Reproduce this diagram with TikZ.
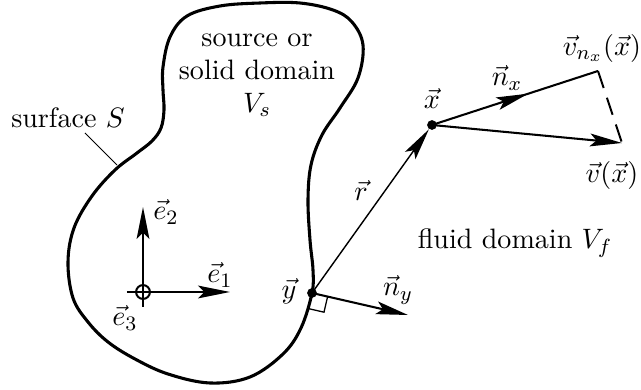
\documentclass[tikz,border=0pt]{standalone}
\usetikzlibrary{arrows.meta,decorations.markings}
\begin{document}
\begin{tikzpicture}[x=0.39pt,y=-0.39pt,
  txt/.style={font=\fontsize{10.95}{12.9}\selectfont, inner sep=0pt, align=center},
  tipstyle/.style={-{Stealth[length=12.5pt,width=5pt,inset=2.5pt]}},
  vec/.style={line width=0.8pt, tipstyle},
  dot/.style={circle,fill=black,inner sep=0pt,minimum size=3.8pt}]
\useasboundingbox (0,0) rectangle (641,390);
% surface
\draw[line width=1.2pt] plot[smooth cycle,tension=0.6] coordinates {
 (163,67) (170,37) (187,16) (220,6) (260,3) (300,3) (333,10) (352,22) (363,45)
 (358,78) (340,108) (322,135) (311,165) (308,200) (310,240) (313,270) (312,293)
 (301,328) (283,354) (250,377) (210,383) (168,374) (135,359) (108,342) (88,322) (73,298)
 (68,262) (74,228) (92,196) (115,170) (137,153) (152,141) (161,128) (164,110) (163,90)};
% labels in solid
\node[txt] (surf) at (68,118) {surface $S$};
\coordinate (l1) at (85,133);
\coordinate (l2) at (117,165);
\draw[line width=0.4pt] (l1) -- (l2);
\node[txt] (solid) at (257,75) {source or\\solid domain\\$V_s$};
% frame
\coordinate (O) at (143,292);
\coordinate (e1) at (230,292);
\coordinate (e2) at (143,207);
\coordinate (e3a) at (127,292);
\coordinate (e3b) at (143,307);
\draw[vec] (e3a) -- (e1);
\draw[vec] (e3b) -- (e2);
\draw[line width=0.8pt] (O) circle (2.7pt);
\node[txt] (le1) at (220,275) {$\vec{e}_1$};
\node[txt] (le2) at (166,212) {$\vec{e}_2$};
\node[txt] (le3) at (125,318) {$\vec{e}_3$};
% points
\node[dot] (y) at (312,293) {};
\node[dot] (x) at (432,125) {};
\coordinate (nx) at (598,71);
\coordinate (vx) at (622,143);
\coordinate (ny) at (408,315);
% right angle
\draw[line width=0.5pt] (327.6,296.6) -- (324.0,312.2) -- (308.4,308.6);
% vectors
\draw[line width=0.55pt, tipstyle] (y.center) -- (x);
\draw[line width=0.8pt,
  decoration={markings, mark=at position 0.58 with {\arrow{Stealth[length=12.5pt,width=5pt,inset=2.5pt]}}},
  postaction={decorate}] (x.center) -- (nx);
\draw[vec] (x.center) -- (vx);
\draw[line width=0.8pt, dash pattern=on 7pt off 4pt] (nx) -- (vx);
\draw[vec] (y.center) -- (ny);
% labels
\node[txt] (ly) at (289,291) {$\vec{y}$};
\node[txt] (lx) at (432,98) {$\vec{x}$};
\node[txt] (lr) at (361,190) {$\vec{r}$};
\node[txt] (lnx) at (507,78) {$\vec{n}_x$};
\node[txt] (lvn) at (602,48) {$\vec{v}_{n_x}(\vec{x})$};
\node[txt] (lv) at (612,175) {$\vec{v}(\vec{x})$};
\node[txt] (lny) at (398,290) {$\vec{n}_y$};
\node[txt] (fl) at (515,243) {fluid domain $V_f$};
\end{tikzpicture}
\end{document}
